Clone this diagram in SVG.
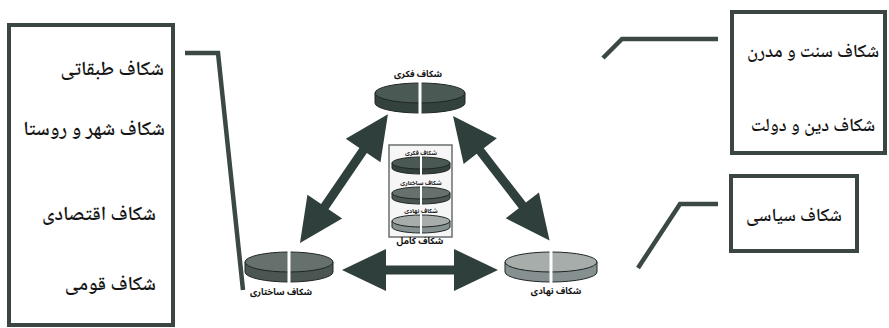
<svg xmlns="http://www.w3.org/2000/svg" width="889" height="328" viewBox="0 0 889 328">
<style>
  .box { fill: #ffffff; stroke: #3b4643; stroke-width: 4; }
  .lbl { font-family: "Noto Naskh Arabic", "Noto Sans Arabic", "DejaVu Sans", sans-serif; font-size: 20px; font-weight: 600; fill: #151515; }
  .lblR { font-size: 18.5px; }
  .small { font-family: "Noto Sans Arabic", "DejaVu Sans", sans-serif; font-size: 9px; font-weight: bold; fill: #111; text-anchor: middle; }
  .tiny { font-family: "Noto Sans Arabic", "DejaVu Sans", sans-serif; font-size: 6px; font-weight: bold; fill: #222; text-anchor: middle; }
  .conn { fill: none; stroke: #3b4845; stroke-width: 4.5; stroke-linejoin: miter; }
  .arrow { fill: #2f3f3c; }
  .gap { stroke: #ffffff; stroke-width: 3; }
  .gapS { stroke: #ffffff; stroke-width: 2; }
  .dark .face { fill: #4b5955; } .dark .side { fill: #34423e; }
  .mid .face { fill: #66716d; } .mid .side { fill: #4b5551; }
  .light .face { fill: #a6adaa; } .light .side { fill: #879090; }
  .face, .side { stroke: #1f2624; stroke-width: 1; }
</style>
<defs>
  <path id="dbl" d="M0,0 L44,-21 L44,-4.5 L112,-4.5 L112,-21 L156,0 L112,21 L112,4.5 L44,4.5 L44,21 Z"/>
</defs>

<g id="connectors">
  <polyline class="conn" points="185,53 218,53 243,290"/>
  <polyline class="conn" points="603,58 622,39 718,39"/>
  <polyline class="conn" points="638,268 680,204 718,204"/>
  <use href="#dbl" class="arrow" transform="translate(300,243) rotate(-55.7)"/>
  <use href="#dbl" class="arrow" transform="translate(453,116) rotate(52.2) scale(1.01,1)"/>
  <use href="#dbl" class="arrow" transform="translate(342,270)"/>
</g>

<g id="left-box">
  <rect class="box" x="9" y="25" width="164" height="300"/>
  <text class="lbl" x="164" y="75" text-anchor="end">شکاف طبقاتی</text>
  <text class="lbl" x="165" y="135" text-anchor="end">شکاف شهر و روستا</text>
  <text class="lbl" x="156" y="220" text-anchor="end">شکاف اقتصادی</text>
  <text class="lbl" x="156" y="290" text-anchor="end">شکاف قومی</text>
</g>

<g id="right-top-box">
  <rect class="box" x="732" y="12" width="153" height="141"/>
  <text class="lbl lblR" x="813" y="57" text-anchor="middle">شکاف سنت و مدرن</text>
  <text class="lbl lblR" x="813" y="131" text-anchor="middle">شکاف دین و دولت</text>
</g>

<g id="right-small-box">
  <rect class="box" x="731" y="176" width="126" height="75"/>
  <text class="lbl lblR" x="794" y="221" text-anchor="middle">شکاف سیاسی</text>
</g>

<g id="disc-fekri" class="dark">
  <path class="side" d="M375,93 L375,103 A45,10 0 0 0 465,103 L465,93 Z"/>
  <ellipse class="face" cx="420" cy="93" rx="45" ry="10"/>
  <line class="gap" x1="420" y1="81" x2="420" y2="115"/>
  <text class="small" x="418" y="77">شکاف فکری</text>
</g>

<g id="disc-sakhtari" class="mid">
  <path class="side" d="M245,262 L245,272 A44,10 0 0 0 333,272 L333,262 Z"/>
  <ellipse class="face" cx="289" cy="262" rx="44" ry="10"/>
  <line class="gap" x1="289" y1="250" x2="289" y2="284"/>
  <text class="small" x="281" y="295">شکاف ساختاری</text>
</g>

<g id="disc-nahadi" class="light">
  <path class="side" d="M505,262 L505,272 A46,10 0 0 0 597,272 L597,262 Z"/>
  <ellipse class="face" cx="551" cy="262" rx="46" ry="10"/>
  <line class="gap" x1="551" y1="250" x2="551" y2="284"/>
  <text class="small" x="556" y="294">شکاف نهادی</text>
</g>

<g id="kamel">
  <rect x="389" y="145" width="63" height="92" fill="#f6f6f6" stroke="#6a6f6d" stroke-width="1.5"/>
  <g class="dark">
    <text class="tiny" x="421" y="155">شکاف فکری</text>
    <path class="side" d="M392,163 L392,168 A29,6 0 0 0 450,168 L450,163 Z"/>
    <ellipse class="face" cx="421" cy="163" rx="29" ry="6"/>
    <line class="gapS" x1="421" y1="156" x2="421" y2="175"/>
  </g>
  <g class="mid">
    <text class="tiny" x="421" y="185">شکاف ساختاری</text>
    <path class="side" d="M392,193 L392,198 A29,6 0 0 0 450,198 L450,193 Z"/>
    <ellipse class="face" cx="421" cy="193" rx="29" ry="6"/>
    <line class="gapS" x1="421" y1="186" x2="421" y2="205"/>
  </g>
  <g class="light">
    <text class="tiny" x="421" y="213">شکاف نهادی</text>
    <path class="side" d="M392,221 L392,227 A29,6 0 0 0 450,227 L450,221 Z"/>
    <ellipse class="face" cx="421" cy="221" rx="29" ry="6"/>
    <line class="gapS" x1="421" y1="214" x2="421" y2="234"/>
  </g>
  <text class="small" x="420" y="244" font-size="10">شکاف کامل</text>
</g>
</svg>
